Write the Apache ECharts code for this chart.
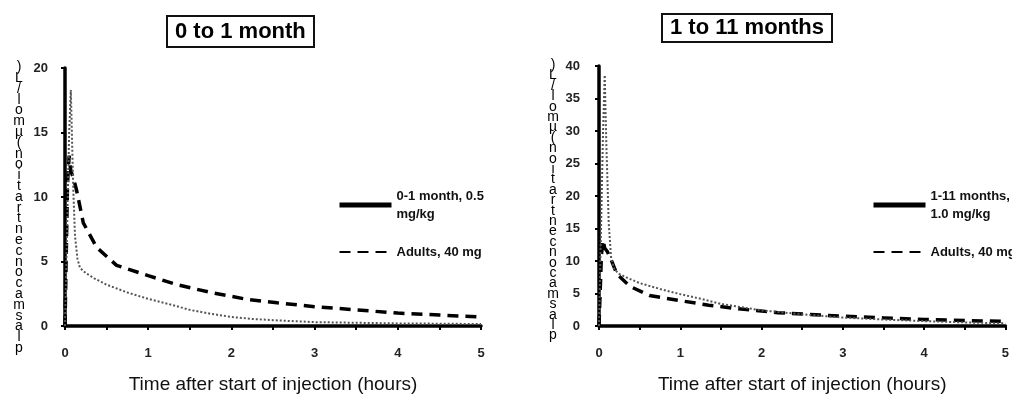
<!DOCTYPE html>
<html>
<head>
<meta charset="utf-8">
<script src="https://cdn.jsdelivr.net/npm/echarts@6/dist/echarts.min.js"></script>
<style>
html,body{margin:0;padding:0;background:#fff;}
#chart{width:1012px;height:399px;}
</style>
</head>
<body>
<div id="chart"></div>
<script>
// ---- data ----
const titleLeft = "0 to 1 month";
const titleRight = "1 to 11 months";
const xAxisTitle = "Time after start of injection (hours)";
const yAxisTitle = "plasma concentration (µmol/L)";
const xTickLabels = ["0", "1", "2", "3", "4", "5"];
const yTicksLeft = [0, 5, 10, 15, 20];
const yTicksRight = [0, 5, 10, 15, 20, 25, 30, 35, 40];

const nameChild0 = "0-1 month, 0.5\nmg/kg";
const nameChild1 = "1-11 months,\n1.0 mg/kg";
const nameAdults = "Adults, 40 mg";

const timeChild0 = [0, 0.02, 0.05, 0.07, 0.09, 0.1, 0.12, 0.15, 0.18, 0.25, 0.35, 0.5, 0.75, 1, 1.25, 1.5, 1.75, 2, 2.25, 2.5, 3, 3.5, 4, 4.5, 5];
const concChild0 = [0, 6, 15, 18.3, 13, 10.5, 7, 5.2, 4.5, 4.1, 3.7, 3.2, 2.6, 2.1, 1.7, 1.25, 0.95, 0.7, 0.55, 0.45, 0.3, 0.25, 0.2, 0.18, 0.15];

const timeChild1 = [0, 0.02, 0.05, 0.07, 0.09, 0.12, 0.15, 0.19, 0.25, 0.35, 0.5, 0.75, 1, 1.25, 1.5, 1.75, 2, 2.5, 3, 3.5, 4, 4.5, 5];
const concChild1 = [0, 12, 30, 38.6, 28, 15.7, 10.3, 8.7, 8.0, 7.4, 6.6, 5.7, 4.9, 4.2, 3.4, 2.9, 2.4, 1.8, 1.3, 1.0, 0.75, 0.55, 0.4];

const timeAdults = [0, 0.03, 0.05, 0.07, 0.1, 0.14, 0.22, 0.38, 0.62, 1, 1.35, 1.75, 2.2, 2.55, 3, 3.5, 4, 4.5, 5];
const concAdults = [0, 11, 13.2, 12, 11.5, 10.5, 8, 6.1, 4.7, 3.9, 3.2, 2.6, 2.05, 1.8, 1.5, 1.25, 1.0, 0.85, 0.7];

// ---- helpers ----
const pairs = (t, v) => t.map((x, i) => [x, v[i]]);
const FONT = "Liberation Sans";
const verticalText = yAxisTitle.split("").filter(c => c !== " ").reverse().join("\n");

function xAxisDef(gridIndex) {
  return {
    type: 'value', gridIndex, min: 0, max: 5, interval: 1,
    name: xAxisTitle, nameLocation: 'middle', nameGap: 49,
    nameTextStyle: { fontFamily: FONT, fontSize: 19, color: '#111' },
    axisLine: { show: true, onZero: false, lineStyle: { color: '#000', width: 3.5 } },
    axisTick: { show: true, length: 4, lineStyle: { color: '#000', width: 2 } },
    minorTick: { show: true, splitNumber: 2, length: 4, lineStyle: { color: '#000', width: 2 } },
    axisLabel: { margin: 21, fontFamily: FONT, fontSize: 13, fontWeight: 'bold', color: '#222',
      formatter: v => xTickLabels[Math.round(v)] },
    splitLine: { show: false }
  };
}
function yAxisDef(gridIndex, ticks, margin) {
  return {
    type: 'value', gridIndex, min: ticks[0], max: ticks[ticks.length - 1], interval: ticks[1] - ticks[0],
    axisLine: { show: true, lineStyle: { color: '#000', width: 3.5 } },
    axisTick: { show: true, length: 4, lineStyle: { color: '#000', width: 2 } },
    axisLabel: { margin, fontFamily: FONT, fontSize: 13, fontWeight: 'bold', color: '#222' },
    splitLine: { show: false }
  };
}
const childStyle = { color: '#555', width: 2, type: [2, 2] };
const adultStyle = { color: '#000', width: 3.5, type: [11, 7] };
const hiddenSymbol = { opacity: 0 };

const chart = echarts.init(document.getElementById('chart'), null, { renderer: 'canvas' });
chart.setOption({
  backgroundColor: '#fff',
  animation: false,
  title: [
    { text: titleLeft, left: 167, top: 16, padding: [5, 8, 4, 8], borderWidth: 2, borderColor: '#111',
      textStyle: { fontFamily: FONT, fontSize: 22, fontWeight: 'bold', color: '#000' } },
    { text: titleRight, left: 662, top: 14, padding: [3, 8, 3, 8], borderWidth: 2, borderColor: '#111',
      textStyle: { fontFamily: FONT, fontSize: 22, fontWeight: 'bold', color: '#000' } }
  ],
  grid: [
    { left: 65, top: 68, width: 416, height: 264, containLabel: false },
    { left: 599, top: 66, width: 416, height: 265, containLabel: false }
  ],
  xAxis: [xAxisDef(0), xAxisDef(1)],
  yAxis: [yAxisDef(0, yTicksLeft, 17), yAxisDef(1, yTicksRight, 19)],
  legend: [
    { orient: 'vertical', left: 332, top: 173, itemWidth: 52, itemHeight: 14, itemGap: 11,
      selectedMode: false, itemStyle: hiddenSymbol,
      textStyle: { fontFamily: FONT, fontSize: 13, fontWeight: 'bold', color: '#111', lineHeight: 18 },
      data: [
        { name: nameChild0, lineStyle: { color: '#000', width: 5, type: 'solid' }, itemStyle: hiddenSymbol,
          textStyle: { padding: [18, 0, 0, 0] } },
        { name: nameAdults, itemStyle: hiddenSymbol }
      ] },
    { orient: 'vertical', left: 866, top: 173, itemWidth: 52, itemHeight: 14, itemGap: 11,
      selectedMode: false, itemStyle: hiddenSymbol,
      textStyle: { fontFamily: FONT, fontSize: 13, fontWeight: 'bold', color: '#111', lineHeight: 18 },
      data: [
        { name: nameChild1, lineStyle: { color: '#000', width: 5, type: 'solid' }, itemStyle: hiddenSymbol,
          textStyle: { padding: [18, 0, 0, 0] } },
        { name: nameAdults, itemStyle: hiddenSymbol }
      ] }
  ],
  graphic: [
    { type: 'text', x: 19, y: 62, style: { text: verticalText, align: 'center', verticalAlign: 'top',
      lineHeight: 10.8, font: '14px "Liberation Sans"', fill: '#000' } },
    { type: 'text', x: 553, y: 60, style: { text: verticalText, align: 'center', verticalAlign: 'top',
      lineHeight: 10.4, font: '14px "Liberation Sans"', fill: '#000' } }
  ],
  series: [
    { name: nameAdults, type: 'line', xAxisIndex: 0, yAxisIndex: 0, symbol: 'none', smooth: false,
      data: pairs(timeAdults, concAdults), lineStyle: adultStyle, itemStyle: { color: '#000' } },
    { name: nameChild0, type: 'line', xAxisIndex: 0, yAxisIndex: 0, symbol: 'none', smooth: false,
      data: pairs(timeChild0, concChild0), lineStyle: childStyle, itemStyle: { color: '#555' } },
    { name: nameAdults, type: 'line', xAxisIndex: 1, yAxisIndex: 1, symbol: 'none', smooth: false,
      data: pairs(timeAdults, concAdults), lineStyle: adultStyle, itemStyle: { color: '#000' } },
    { name: nameChild1, type: 'line', xAxisIndex: 1, yAxisIndex: 1, symbol: 'none', smooth: false,
      data: pairs(timeChild1, concChild1), lineStyle: childStyle, itemStyle: { color: '#555' } }
  ]
});
</script>
</body>
</html>
